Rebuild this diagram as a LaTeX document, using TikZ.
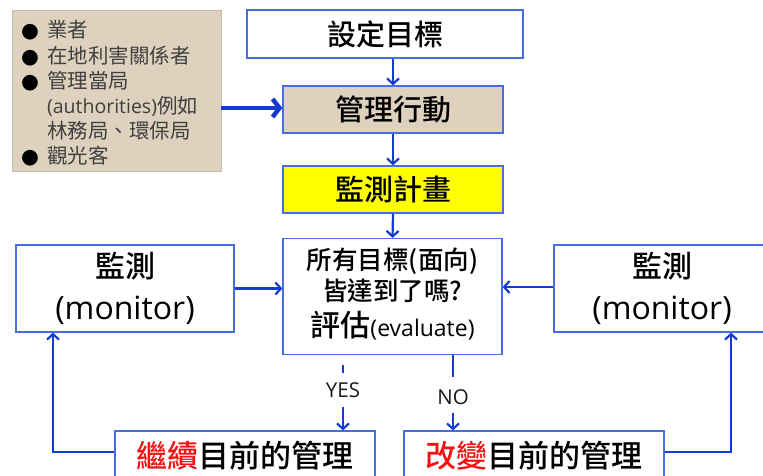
\documentclass[tikz,border=0pt]{standalone}
\usepackage{fontspec}
\setmainfont{Noto Sans CJK TC}[UprightFont={* Medium}]
\newfontfamily\cjkreg{Noto Sans CJK TC}
\newfontfamily\lat{Open Sans}
\newfontfamily\symf{DejaVu Sans}
\usetikzlibrary{arrows.meta}
\definecolor{bordc}{RGB}{70,110,225}
\definecolor{arrc}{RGB}{20,60,210}
\definecolor{tanc}{RGB}{222,210,190}
\definecolor{txtg}{RGB}{64,64,64}
\definecolor{yel}{RGB}{255,255,0}
\definecolor{redc}{RGB}{240,20,20}
\begin{document}
\begin{tikzpicture}[x=1pt,y=-1pt,
  box/.style={draw=bordc,line width=1.2pt,fill=white,inner sep=0pt,align=center,text=black},
  conn/.style={draw=arrc,line width=2.2pt,-{Straight Barb[length=5.5pt,width=12pt]}},
  plainline/.style={draw=arrc,line width=2.2pt},
  bigconn/.style={draw=arrc,line width=4.5pt,-{Straight Barb[length=7pt,width=18pt]}},
  lbl/.style={inner sep=0pt,font=\lat\fontsize{20.5}{24}\selectfont,text=black!90}]
\clip (0,0) rectangle (763,475);
\fill[white] (0,0) rectangle (763,475);
% left stakeholder box
\node[fill=tanc,draw=tanc!90!black,line width=0.3pt,minimum width=209pt,minimum height=161pt,inner sep=0pt] (tan) at (116.5,90.5) {};
\node[anchor=west,inner sep=0pt,text=txtg] (tantext) at (21,95.5) {\cjkreg\fontsize{20.5}{25}\selectfont
\begin{tabular}{@{}c@{\hspace{8pt}}l@{}}
\textcolor{black}{\symf ●} & 業者\\
\textcolor{black}{\symf ●} & 在地利害關係者\\
\textcolor{black}{\symf ●} & 管理當局\\
 & {\lat\fontsize{19.5}{25}\selectfont (authorities)}例如\\
 & 林務局、環保局\\
\textcolor{black}{\symf ●} & 觀光客
\end{tabular}};
% main column
\node[box,minimum width=276pt,minimum height=48pt,font=\fontsize{29}{34}\selectfont] (goal) at (385,34) {設定目標};
\node[box,fill=tanc,minimum width=220pt,minimum height=47pt,font=\fontsize{29}{34}\selectfont] (act) at (393,109.5) {管理行動};
\node[box,fill=yel,minimum width=220pt,minimum height=47pt,font=\fontsize{29}{34}\selectfont] (plan) at (393,189.5) {監測計畫};
\node[box,minimum width=219pt,minimum height=116pt,font=\fontsize{25.5}{31}\selectfont] (eval) at (392.5,296.5) {所有目標(面向)\\皆達到了嗎?\\[5pt]{\fontsize{30}{31}\selectfont 評估}{\lat\fontsize{23}{31}\selectfont (evaluate)}\\[-22pt]};
\node[box,minimum width=218pt,minimum height=87pt,font=\fontsize{30}{41}\selectfont] (monL) at (125,288.5) {監測\\[1pt]{\lat\fontsize{32}{41}\selectfont (monitor)}};
\node[box,minimum width=216pt,minimum height=87pt,font=\fontsize{30}{41}\selectfont] (monR) at (662,288.5) {監測\\[1pt]{\lat\fontsize{32}{41}\selectfont (monitor)}};
\node[box,minimum width=260pt,minimum height=50pt,font=\fontsize{31}{36}\selectfont] (cont) at (245,456) {\textcolor{redc}{繼續}目前的管理};
\node[box,minimum width=260pt,minimum height=50pt,font=\fontsize{31}{36}\selectfont] (chg) at (534,456) {\textcolor{redc}{改變}目前的管理};
% labels
\node[lbl] (yes) at (343,390) {YES};
\node[lbl] (no) at (453,397) {NO};
\coordinate (ytop) at (343,365);
% connectors
\draw[conn] (goal.south -| act.north) -- (act.north);
\draw[conn] (act.south) -- (plan.north);
\draw[conn] (plan.south) -- (eval.north);
\draw[bigconn] (tan.east |- 0,108) -- (act.west |- 0,108);
\draw[conn] (monL.east) -- (eval.west |- monL.east);
\draw[conn] (monR.west |- 0,287) -- (eval.east |- 0,287);
\draw[plainline] (ytop) -- ([yshift=9pt]yes.north);
\draw[conn] ([yshift=-9pt]yes.south) -- (cont.north -| yes);
\draw[plainline] (eval.south -| no) -- ([yshift=12pt]no.north);
\draw[conn] ([yshift=-8pt]no.south) -- (chg.north -| no);
\draw[conn] (cont.west |- 0,452) -| ([xshift=-72pt]monL.south);
\draw[conn] (chg.east |- 0,452) -| ([xshift=69pt]monR.south);
\end{tikzpicture}
\end{document}
